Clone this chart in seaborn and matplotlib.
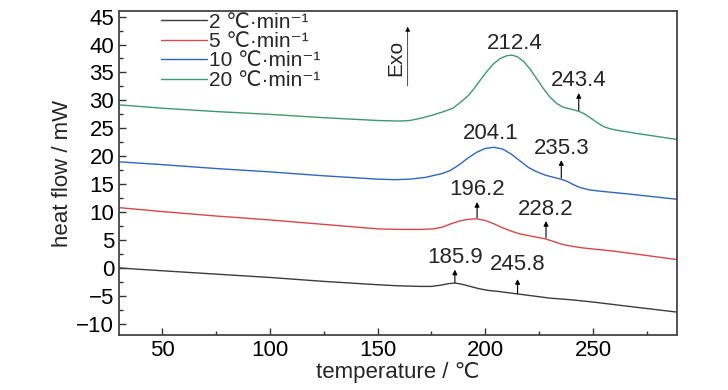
import numpy as np
import pandas as pd
import matplotlib
matplotlib.use("Agg")
import matplotlib.pyplot as plt
import seaborn as sns

# DSC curves
rates = ['2 ℃·min⁻¹', '5 ℃·min⁻¹', '10 ℃·min⁻¹', '20 ℃·min⁻¹']

temp_2 = [30, 50, 75, 100, 125, 150, 160, 170, 175, 179, 183, 186, 189, 193, 197, 201, 206, 212, 218, 224,
          230, 240, 250, 265, 289]
flow_2 = [0.0, -0.5, -1.1, -1.7, -2.4, -3.0, -3.2, -3.3, -3.3, -3.1, -2.8, -2.7, -2.9, -3.3, -3.7, -4.0, -4.2,
          -4.5, -4.8, -5.1, -5.4, -5.7, -6.1, -6.8, -7.9]

temp_5 = [30, 50, 75, 100, 125, 150, 160, 170, 176, 180, 184, 188, 192, 196, 200, 204, 208, 212, 216, 220,
          224, 228, 232, 236, 240, 245, 260, 289]
flow_5 = [10.8, 10.1, 9.3, 8.6, 7.8, 7.0, 6.9, 6.9, 7.0, 7.3, 7.9, 8.4, 8.7, 8.8, 8.5, 7.9, 7.2, 6.6, 6.1, 5.8,
          5.5, 5.2, 4.7, 4.2, 3.9, 3.6, 3.0, 1.5]

temp_10 = [30, 50, 75, 100, 125, 150, 158, 165, 172, 180, 184, 188, 192, 196, 200, 204, 208, 212, 216, 220,
           224, 228, 232, 235, 238, 241, 244, 248, 252, 265, 289]
flow_10 = [19.0, 18.5, 17.8, 17.2, 16.5, 15.9, 15.8, 15.9, 16.2, 16.9, 17.5, 18.5, 19.7, 20.7, 21.4, 21.6, 21.3,
           20.4, 19.2, 18.0, 17.2, 16.6, 16.2, 15.9, 15.5, 14.9, 14.4, 14.0, 13.8, 13.3, 12.3]

temp_20 = [30, 50, 75, 100, 125, 150, 160, 165, 170, 175, 180, 185, 188, 192, 195, 198, 201, 204, 207, 210,
           212.4, 215, 218, 221, 224, 227, 230, 233, 236, 240, 243, 246, 249, 252, 255, 258, 262, 270, 289]
flow_20 = [29.2, 28.6, 28.0, 27.5, 26.9, 26.4, 26.3, 26.4, 26.8, 27.3, 27.9, 28.6, 29.5, 30.8, 32.2, 33.8,
           35.3, 36.6, 37.5, 38.0, 38.1, 37.8, 36.9, 35.5, 33.8, 32.1, 30.6, 29.5, 28.8, 28.4, 28.1, 27.6,
           26.8, 26.0, 25.3, 24.9, 24.6, 24.1, 23.0]

colors = ['#3c3c3c', '#d8474a', '#2f66c0', '#3d9a6c']

# peak labels: arrows (x, tail, head) and label text position
arrow_x = [185.9, 215.0, 196.2, 228.2, 235.3, 243.4]
arrow_tail = [-2.6, -4.6, 9.0, 5.4, 16.1, 28.2]
arrow_head = [-0.3, -2.0, 11.8, 8.4, 19.3, 31.3]
peak_labels = ['185.9', '245.8', '196.2', '228.2', '235.3', '243.4', '204.1', '212.4']
label_x = [185.9, 215.0, 196.2, 228.2, 235.3, 243.4, 202.5, 213.5]
label_y = [1.9, 0.6, 14.1, 10.4, 21.4, 33.5, 24.1, 40.2]

frames = []
for name, t, f in zip(rates, [temp_2, temp_5, temp_10, temp_20], [flow_2, flow_5, flow_10, flow_20]):
    frames.append(pd.DataFrame({'temperature': t, 'heat flow': f, 'rate': name}))
df = pd.concat(frames, ignore_index=True)

sns.set_theme(style="ticks")
sns.set_style("ticks", {"xtick.direction": "in", "ytick.direction": "in"})
plt.rcParams['font.family'] = ['Liberation Sans', 'DejaVu Sans']

fig = plt.figure(figsize=(7.28, 3.9), dpi=100)
ax = fig.add_axes([119 / 728, 1 - 335 / 390, 558 / 728, 324 / 390])

sns.lineplot(data=df, x='temperature', y='heat flow', hue='rate', palette=dict(zip(rates, colors)),
             sort=False, linewidth=1.0, ax=ax, legend=False)

for x, t, h in zip(arrow_x, arrow_tail, arrow_head):
    ax.annotate('', xy=(x, h), xytext=(x, t),
                arrowprops=dict(arrowstyle='-|>', color='black', lw=0.8, mutation_scale=7, shrinkA=0, shrinkB=0))
for s, x, y in zip(peak_labels, label_x, label_y):
    ax.text(x, y, s, ha='center', va='center', fontsize=16)

# Exo marker
ax.annotate('', xy=(164, 43.2), xytext=(164, 32.6),
            arrowprops=dict(arrowstyle='-|>', color='black', lw=0.5, mutation_scale=7, shrinkA=0, shrinkB=0))
ax.text(158.5, 37.6, 'Exo', rotation=90, ha='center', va='center', fontsize=15)

handles = [plt.Line2D([], [], color=c, lw=1.0) for c in colors]
ax.legend(handles, rates, loc='upper left', bbox_to_anchor=(0.075, 0.995), frameon=False,
          fontsize=15, handlelength=2.2, handletextpad=0.1, labelspacing=0.02, borderpad=0, borderaxespad=0)

ax.set_xlim(30, 289)
ax.set_ylim(-12, 46)
ax.set_xticks([50, 100, 150, 200, 250])
ax.set_xticks([75, 125, 175, 225, 275], minor=True)
ax.set_yticks(np.arange(-10, 46, 5))
ax.set_yticks(np.arange(-7.5, 46, 5), minor=True)
ax.tick_params(which='major', direction='in', length=5, width=1, labelsize=16, colors='#333333', labelcolor='black')
ax.tick_params(which='minor', direction='in', length=3, width=1, colors='#333333')
for sp in ax.spines.values():
    sp.set_visible(True)
    sp.set_color('#444444')
    sp.set_linewidth(1.3)

ax.set_xlabel('temperature / ℃', fontsize=16, labelpad=1)
ax.set_ylabel('heat flow / mW', fontsize=16, labelpad=2)

fig.savefig('out.png', dpi=100)
